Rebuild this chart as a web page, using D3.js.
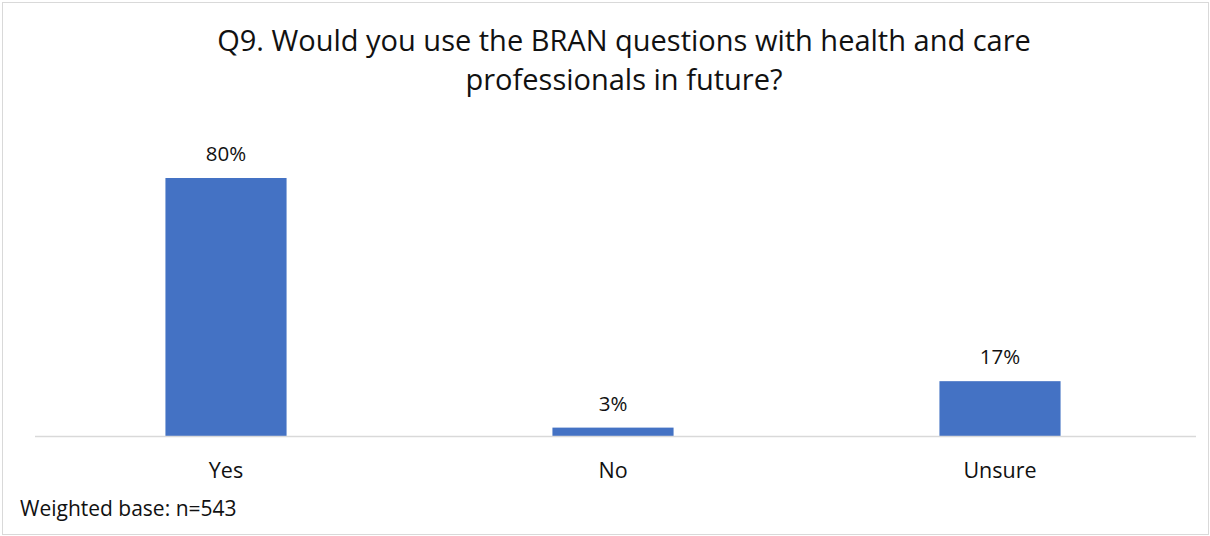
<!DOCTYPE html>
<html>
<head>
<meta charset="utf-8">
<script src="https://cdn.jsdelivr.net/npm/d3@7"></script>
<style>
  html, body { margin: 0; padding: 0; background: #fff; }
  svg { display: block; }
  text { font-family: "Open Sans", "Noto Sans", sans-serif; }
</style>
</head>
<body>
<svg id="chart" width="1210" height="536"></svg>
<script>
const categories = ["Yes", "No", "Unsure"];
const values = [80, 2.6, 17];
const titleLines = ["Q9. Would you use the BRAN questions with health and care", "professionals in future?"];
const footnote = "Weighted base: n=543";

const W = 1210, H = 536;
const svg = d3.select("#chart");

// outer border
svg.append("rect").attr("x", 2.5).attr("y", 2.5).attr("width", W - 4).attr("height", H - 4)
  .attr("fill", "#fff").attr("stroke", "#d9d9d9").attr("stroke-width", 1);

const x = d3.scaleBand().domain(categories).range([32.5, 1193.5]).paddingInner(0.687).paddingOuter(0.3435);
const y = d3.scaleLinear().domain([0, 90]).range([436, 145.75]);

// title
svg.append("g").selectAll("text").data(titleLines).join("text")
  .attr("x", 624).attr("y", (d, i) => 51 + i * 39)
  .attr("text-anchor", "middle").attr("font-size", 29)
  .style("fill", "#111")
  .text(d => d);

// bars
svg.append("g").selectAll("rect").data(values).join("rect")
  .attr("x", (d, i) => x(categories[i]))
  .attr("y", d => y(d))
  .attr("width", x.bandwidth())
  .attr("height", d => y(0) - y(d))
  .attr("fill", "#4472c4");

// axis
const axis = svg.append("g").attr("transform", `translate(0,${y(0)})`)
  .call(d3.axisBottom(x).tickSize(0).tickPadding(27));
axis.select(".domain").attr("stroke", "#d9d9d9").attr("stroke-width", 1.5)
  .attr("d", "M35,0.5H1196");
axis.selectAll("text").attr("font-size", 21.5).style("fill", "#111")
  .attr("font-family", "\"Open Sans\", sans-serif");

// data labels
svg.append("g").selectAll("text").data(values).join("text")
  .attr("x", (d, i) => x(categories[i]) + x.bandwidth() / 2)
  .attr("y", d => y(d) - 17)
  .attr("text-anchor", "middle").attr("font-size", 20.5)
  .style("fill", "#111")
  .text(d => Math.round(d) + "%");

// footnote
svg.append("text").attr("x", 20).attr("y", 516).attr("font-size", 21)
  .style("fill", "#111").text(footnote);
</script>
</body>
</html>
